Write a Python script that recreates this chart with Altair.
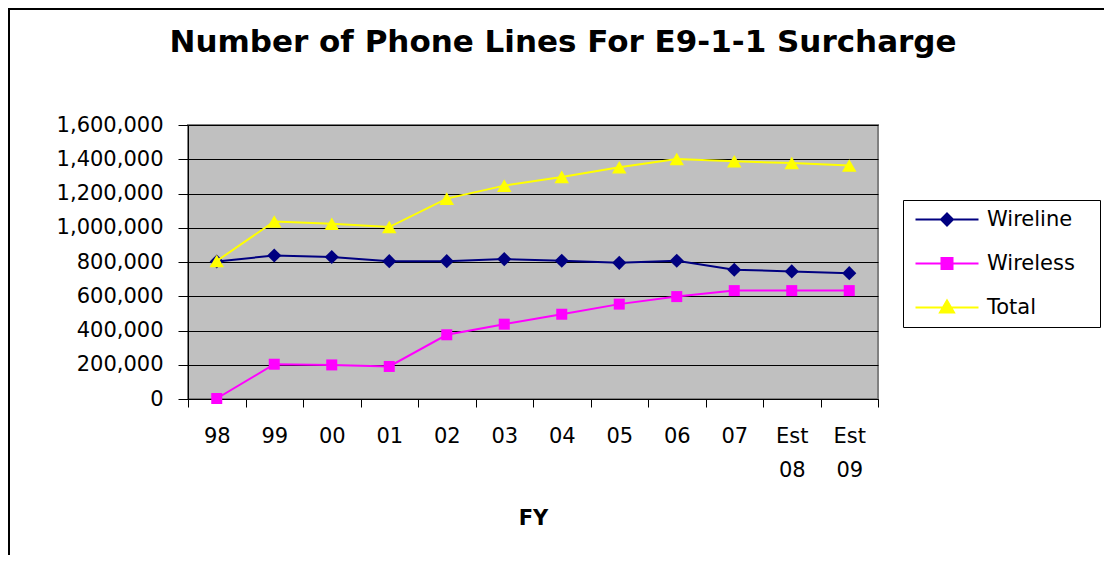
import altair as alt
import pandas as pd

fy = ["98", "99", "00", "01", "02", "03", "04", "05", "06", "07", "Est 08", "Est 09"]
series_names = ["Wireline", "Wireless", "Total"]
wireline = [803000, 838000, 829000, 805000, 805000, 817000, 807000, 795000, 807000, 755000, 745000, 735000]
wireless = [3000, 203000, 199000, 190000, 375000, 437000, 495000, 554000, 598000, 633000, 633000, 633000]
total = [806000, 1037000, 1023000, 1004000, 1170000, 1246000, 1297000, 1353000, 1402000, 1388000, 1378000, 1363000]
y_ticks = [0, 200000, 400000, 600000, 800000, 1000000, 1200000, 1400000, 1600000]

colors = ["#000080", "#FF00FF", "#FFFF00"]
shapes = ["diamond", "square", "triangle-up"]
marker_sizes = [200, 121, 210]
# legend symbols: a line segment with the series marker in its middle (unit = 7px)
legend_paths = [
    "M-1,0L8,0M3.5,-0.857L4.357,0L3.5,0.857L2.643,0Z",
    "M-1,0L8,0M2.714,-0.786L4.286,-0.786L4.286,0.786L2.714,0.786Z",
    "M-1,0L8,0M3.5,-1L4.5,0.714L2.5,0.714Z",
]

rows = []
for name, vals in zip(series_names, [wireline, wireless, total]):
    for f, v in zip(fy, vals):
        rows.append({"fy": f, "series": name, "lines": v})
df = pd.DataFrame(rows)

FONT = "DejaVu Sans"

x_enc = alt.X(
    "fy:N",
    sort=fy,
    scale=alt.Scale(type="band", paddingInner=0, paddingOuter=0),
    axis=alt.Axis(
        title="FY",
        titleFont=FONT,
        titleFontSize=21,
        titleFontWeight="bold",
        titleColor="black",
        titlePadding=27,
        labelAngle=0,
        labelFont=FONT,
        labelFontSize=21,
        labelColor="black",
        labelPadding=18,
        labelLineHeight=34,
        labelExpr="datum.value ? split(datum.value, ' ') : ''",
        tickBand="extent",
        tickSize=8,
        tickColor="black",
        domainColor="black",
        grid=False,
    ),
)
y_enc = alt.Y(
    "lines:Q",
    scale=alt.Scale(domain=[0, 1600000], nice=False),
    axis=alt.Axis(
        title=None,
        values=y_ticks,
        format=",.0f",
        labelFont=FONT,
        labelFontSize=21,
        labelColor="black",
        labelPadding=15,
        tickSize=10,
        tickColor="black",
        domainColor="black",
        grid=True,
        gridColor="black",
        gridWidth=1,
    ),
)

base = alt.Chart(df)
layers = []
for name, c, s, sz in zip(series_names, colors, shapes, marker_sizes):
    sub = base.transform_filter(alt.datum.series == name)
    layers.append(sub.mark_line(color=c, strokeWidth=2).encode(x=x_enc, y=y_enc))
    layers.append(
        sub.mark_point(shape=s, filled=True, color=c, size=sz, opacity=1).encode(x=x_enc, y=y_enc)
    )

leg = alt.Legend(
    title=None,
    orient="none",
    legendX=715,
    legendY=75,
    strokeColor="black",
    fillColor="white",
    padding=9,
    symbolSize=196,
    symbolStrokeWidth=2,
    symbolOpacity=1,
    labelFont=FONT,
    labelFontSize=21,
    labelColor="black",
    labelOffset=54,
    labelExpr="datum.label + '\u2800'",
    rowPadding=22,
)
legend_layer = base.transform_filter("false").mark_point(filled=True, strokeWidth=2, opacity=1).encode(
    x=x_enc,
    y=y_enc,
    shape=alt.Shape("series:N", scale=alt.Scale(domain=series_names, range=legend_paths), legend=leg),
    fill=alt.Fill("series:N", scale=alt.Scale(domain=series_names, range=colors), legend=leg),
    stroke=alt.Stroke("series:N", scale=alt.Scale(domain=series_names, range=colors), legend=leg),
)

border = alt.Chart(pd.DataFrame({"a": [0]})).mark_rule(color="black", strokeWidth=2)
top_border = border.encode(x=alt.value(-180), x2=alt.value(920), y=alt.value(-116))
left_border = border.encode(x=alt.value(-179), y=alt.value(-117), y2=alt.value(430))

chart = alt.layer(*layers, legend_layer, top_border, left_border).properties(
    width=690,
    height=274,
    title=alt.TitleParams(
        "Number of Phone Lines For E9-1-1 Surcharge",
        font=FONT,
        fontSize=31,
        fontWeight="bold",
        color="black",
        anchor="middle",
        baseline="alphabetic",
        dx=30,
        offset=-76,
    ),
    padding={"left": 180, "top": 117, "right": 226, "bottom": 156},
    autosize=alt.AutoSizeParams(type="none"),
    background="white",
).configure_view(
    fill="#C0C0C0", stroke="#808080", strokeWidth=2
)

chart.save("out.html", embed_options={"renderer": "svg", "actions": False})
